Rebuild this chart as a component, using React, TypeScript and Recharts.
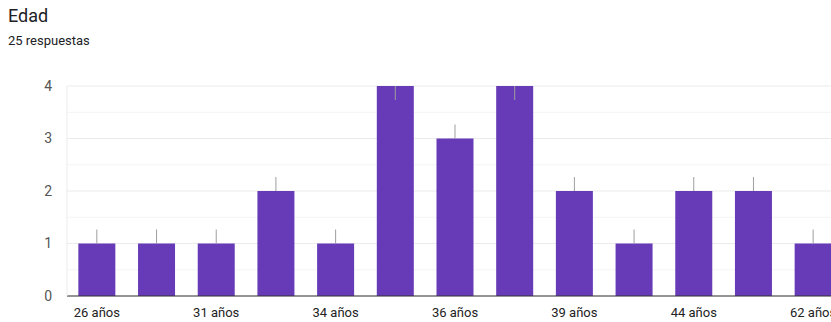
import {
  BarChart,
  Bar,
  XAxis,
  YAxis,
  CartesianGrid,
  LabelList,
} from "recharts";

const ages = [
  "26 años",
  "29 años",
  "31 años",
  "33 años",
  "34 años",
  "35 años",
  "36 años",
  "37 años",
  "39 años",
  "41 años",
  "44 años",
  "47 años",
  "62 años",
];
const counts = [1, 1, 1, 2, 1, 4, 3, 4, 2, 1, 2, 2, 1];
const yTicks = [0, 1, 2, 3, 4];
const halfTicks = [0.5, 1.5, 2.5, 3.5];

const data = ages.map((age, i) => ({ age, count: counts[i] }));
const maxCount = Math.max(...counts);

// small grey stem above each bar (drawn inside the bar when it hits the top)
function Stem(props: any) {
  const { x, y, width, value } = props;
  const cx = x + width / 2;
  const y2 = value >= maxCount ? y + 14 : y - 14;
  return <line x1={cx} x2={cx} y1={y} y2={y2} stroke="#9e9e9e" strokeWidth={1} />;
}

export default function App() {
  return (
    <div
      style={{
        position: "absolute",
        left: 0,
        top: 0,
        width: 831,
        height: 322,
        overflow: "hidden",
        background: "#fff",
        fontFamily: "Roboto, sans-serif",
      }}
    >
      <div
        style={{
          position: "absolute",
          left: 8,
          top: 5,
          fontSize: 18,
          color: "#202124",
        }}
      >
        Edad
      </div>
      <div
        style={{
          position: "absolute",
          left: 8,
          top: 33,
          fontSize: 13,
          color: "#202124",
        }}
      >
        25 respuestas
      </div>
      <div style={{ position: "absolute", left: 0, top: 0 }}>
        <BarChart
          width={843}
          height={322}
          data={data}
          margin={{ top: 86, right: 0, bottom: 0, left: 0 }}
          barCategoryGap="19%"
        >
          <CartesianGrid
            vertical={false}
            stroke="#f4f4f4"
            horizontalValues={halfTicks}
          />
          <CartesianGrid vertical={false} stroke="#ebebeb" />
          <XAxis
            dataKey="age"
            interval={1}
            height={26}
            tickLine={false}
            axisLine={{ stroke: "#333" }}
            tick={{ fontSize: 13, fill: "#222" }}
            tickMargin={6}
          />
          <YAxis
            width={67}
            domain={[0, 4]}
            ticks={yTicks}
            tickLine={false}
            tickSize={0}
            tickMargin={15}
            axisLine={{ stroke: "#ebebeb" }}
            tick={{ fontSize: 14, fill: "#555" }}
          />
          <Bar dataKey="count" fill="#673ab7" isAnimationActive={false}>
            <LabelList dataKey="count" content={Stem} />
          </Bar>
        </BarChart>
      </div>
    </div>
  );
}
